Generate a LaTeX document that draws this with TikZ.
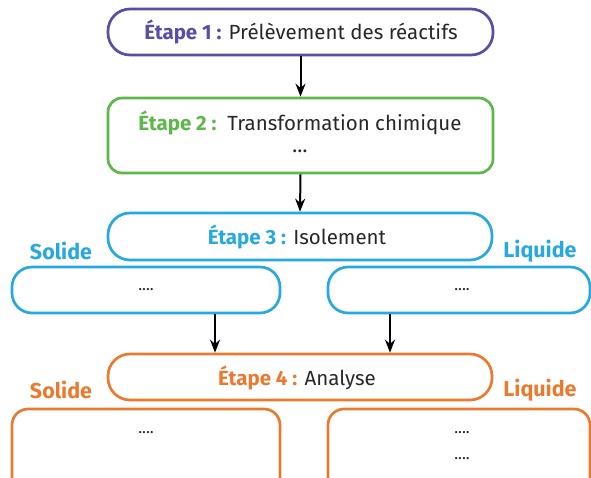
\documentclass[tikz,border=0pt]{standalone}
\usepackage{fontspec}
\setmainfont{Fira Sans}
\usetikzlibrary{arrows.meta}
\definecolor{cpurple}{RGB}{88,78,165}
\definecolor{cgreen}{RGB}{92,184,72}
\definecolor{cblue}{RGB}{38,168,224}
\definecolor{corange}{RGB}{234,122,48}
\definecolor{ctext}{RGB}{40,40,40}
\begin{document}
\begin{tikzpicture}[x=1pt,y=-1pt,
  box/.style={draw,line width=2.7pt,fill=white,inner sep=0pt},
  pill/.style={box,rounded corners=22pt},
  rbox/.style={box,rounded corners=14pt},
  txt/.style={inner sep=0pt,text=ctext,font=\fontsize{20.5}{24}\selectfont},
  lab/.style={inner sep=0pt,font=\fontsize{21.5}{25}\selectfont\bfseries},
  dots/.style={inner sep=0pt,text=ctext,font=\fontsize{16}{18}\selectfont},
  arr/.style={line width=2pt,-{Stealth[length=13pt,width=10pt]}}]
\useasboundingbox (0,0) rectangle (591,477);
\clip (0,0) rectangle (591,477);
% step 1
\node[pill,draw=cpurple,minimum width=385pt,minimum height=46pt] (s1) at (300.5,32) {};
\node[txt] (t1) at (301,32) {\textcolor{cpurple}{\bfseries Étape 1 :} Prélèvement des réactifs};
% step 2
\node[rbox,draw=cgreen,minimum width=385pt,minimum height=75pt] (s2) at (300.5,135.5) {};
\node[txt] (t2) at (300,123) {\textcolor{cgreen}{\bfseries Étape 2 :}\ \ Transformation chimique};
\node[txt] (t2b) at (300,151) {…};
% step 3
\node[pill,draw=cblue,minimum width=384pt,minimum height=47pt] (s3) at (300,236.5) {};
\node[txt] (t3) at (297,237) {\textcolor{cblue}{\bfseries Étape 3 :} Isolement};
\node[lab,text=cblue] (sol3) at (61,251) {Solide};
\node[lab,text=cblue] (liq3) at (540,251) {Liquide};
\node[pill,draw=cblue,rounded corners=20pt,minimum width=268pt,minimum height=46pt] (isoL) at (146,290) {};
\node[pill,draw=cblue,rounded corners=20pt,minimum width=262pt,minimum height=46pt] (isoR) at (459,290) {};
\node[dots] (dl3) at (146,290) {....};
\node[dots] (dr3) at (462,290) {....};
% step 4
\node[pill,draw=corange,minimum width=384pt,minimum height=46pt] (s4) at (300,377) {};
\node[txt] (t4) at (297,378) {\textcolor{corange}{\bfseries Étape 4 :} Analyse};
\node[lab,text=corange] (sol4) at (61,390) {Solide};
\node[lab,text=corange] (liq4) at (540,390) {Liquide};
\node[rbox,draw=corange,rounded corners=16pt,minimum width=268pt,minimum height=111pt] (anaL) at (146,464.5) {};
\node[rbox,draw=corange,rounded corners=16pt,minimum width=262pt,minimum height=111pt] (anaR) at (459,464.5) {};
\node[dots] (dl4) at (146,433) {....};
\node[dots] (dr4a) at (462,433) {....};
\node[dots] (dr4b) at (462,459) {....};
% arrows
\draw[arr] (s1.south) -- (s2.north);
\draw[arr] (s2.south) -- (s3.north);
\draw[arr] ([xshift=69pt]isoL.south) -- ([xshift=69pt]isoL.south |- s4.north);
\draw[arr] ([xshift=-69pt]isoR.south) -- ([xshift=-69pt]isoR.south |- s4.north);
\end{tikzpicture}
\end{document}
